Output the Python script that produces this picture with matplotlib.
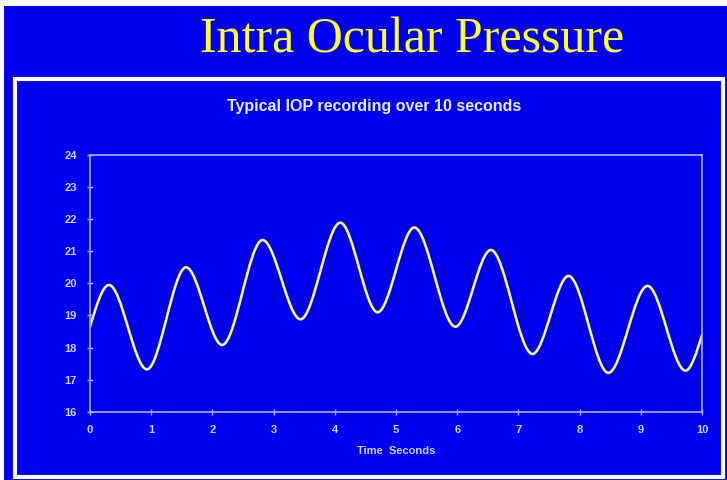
import numpy as np
import matplotlib
matplotlib.use("Agg")
import matplotlib.pyplot as plt
from matplotlib.path import Path
from matplotlib.patches import PathPatch, Rectangle

# turning points of the trace (seconds, mmHg)
times = [0.0, 0.31, 0.93, 1.57, 2.16, 2.82, 3.44, 4.09, 4.70, 5.30, 5.97,
         6.55, 7.23, 7.82, 8.47, 9.11, 9.73, 10.0]
iop = [18.65, 19.95, 17.32, 20.5, 18.08, 21.35, 18.88, 21.89, 19.10, 21.74,
       18.65, 21.04, 17.80, 20.23, 17.21, 19.92, 17.28, 18.39]
xticks = list(range(0, 11))
yticks = list(range(16, 25))

blue = "#0000f0"
axcol = "#a8b0ff"
txtcol = "#d0d4ff"

W, H = 727, 480
fig = plt.figure(figsize=(W / 100, H / 100), dpi=100)
fig.patch.set_facecolor(blue)

# white edge strips and frame
fig.patches.append(Rectangle((0, 1 - 6 / H), 1, 6 / H, transform=fig.transFigure,
                             facecolor="white", edgecolor="none"))
fig.patches.append(Rectangle((0, 0), 4 / W, 1, transform=fig.transFigure,
                             facecolor="white", edgecolor="none"))
fig.patches.append(Rectangle((15 / W, (H - 477) / H), (723 - 15) / W, (477 - 79) / H,
                             transform=fig.transFigure, facecolor="none",
                             edgecolor="white", lw=3))

fig.text(412 / W, 1 - 40 / H, "Intra Ocular Pressure", ha="center", va="center",
         family="Liberation Serif", fontsize=36, color="#ffff33")
fig.text(374 / W, 1 - 107 / H, "Typical IOP recording over 10 seconds", ha="center",
         va="center", family="Liberation Sans", fontweight="bold", fontsize=11.5,
         color="#e8eaff")

ax = fig.add_axes([90 / W, (H - 411.7) / H, 612 / W, (411.7 - 155) / H])
ax.set_facecolor(blue)
ax.set_xlim(0, 10)
ax.set_ylim(16, 24)
ax.set_xticks(xticks)
ax.set_yticks(yticks)
for s in ax.spines.values():
    s.set_color(axcol)
    s.set_linewidth(1.2)
ax.tick_params(colors=axcol, labelcolor=txtcol, direction="inout", length=5,
               width=1, labelsize=8, pad=7)
for lab in ax.get_xticklabels() + ax.get_yticklabels():
    lab.set_family("Liberation Sans")
    lab.set_fontweight("bold")
ax.set_xlabel("Time  Seconds", color=txtcol, fontsize=8, fontweight="bold",
              family="Liberation Sans", labelpad=8)

# smooth trace through the turning points: cubic Bezier segments
verts = [(times[0], iop[0])]
codes = [Path.MOVETO]
n = len(times)
for i in range(n - 1):
    t0, v0, t1, v1 = times[i], iop[i], times[i + 1], iop[i + 1]
    dt = t1 - t0
    c1 = v0 + (v1 - v0) * 0.5 if i == 0 else v0
    c2 = v1 - (v1 - v0) * 0.5 if i == n - 2 else v1
    verts += [(t0 + dt / 3, c1), (t1 - dt / 3, c2), (t1, v1)]
    codes += [Path.CURVE4] * 3
ax.add_patch(PathPatch(Path(verts, codes), facecolor="none", edgecolor="#f0f060",
                       lw=1.9, capstyle="round"))
ax.add_patch(PathPatch(Path(verts, codes), facecolor="none", edgecolor="#fbfbd0",
                       lw=0.6))

fig.savefig("out.png", dpi=100, facecolor=fig.get_facecolor())
